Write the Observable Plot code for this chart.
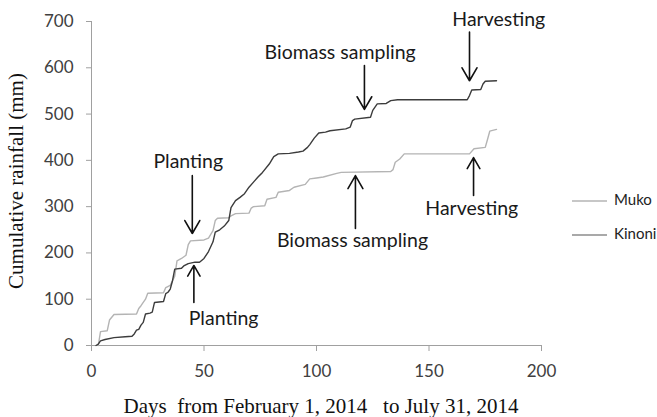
<!DOCTYPE html>
<html>
<head>
<meta charset="utf-8">
<script src="https://cdn.jsdelivr.net/npm/d3@7"></script>
<script src="https://cdn.jsdelivr.net/npm/@observablehq/plot@0.6"></script>
<style>
  html, body { margin: 0; padding: 0; background: #fff; }
  #chart { width: 657px; height: 417px; }
</style>
</head>
<body>
<div id="chart"></div>
<script>
// ---- Data ----
const kinoniDays = [2,3,4,6,10,15,18,19,20,21,22,23,24,26,27,28,32,33,34,35,36,37,40,41,43,46,48,50,52,54,55,57,59,61,62,64,66,68,70,72,74,76,79,81,83,88,92,94,96,97,99,101,104,106,113,115,116,117,124,125,127,131,133,136,167,168,169,173,174,175,180];
const kinoniRain = [0,3,10,13,17,19,20,25,33,35,44,50,68,70,72,93,95,112,115,122,140,165,167,172,177,180,180,188,203,224,245,250,258,270,298,313,320,328,342,353,364,374,392,408,414,415,418,420,428,434,448,459,461,464,468,472,486,489,493,508,522,523,529,531,531,540,552,553,565,571,572];

const mukoDays = [3,4,7,8,10,20,21,22,24,25,32,33,35,37,38,40,42,43,44,50,52,54,55,56,61,62,64,70,71,72,77,78,82,83,88,90,95,97,100,103,109,111,133,134,135,137,139,168,170,175,176,177,180];
const mukoRain = [0,30,32,55,67,68,80,86,100,113,114,125,130,150,183,188,195,218,226,228,232,248,270,275,276,280,285,286,297,300,302,316,320,331,335,342,348,360,362,364,372,374,376,380,396,403,414,414,425,428,445,463,467];

const series = ["Muko", "Kinoni"];
const seriesColors = ["#b4b4b4", "#3c3c3c"];
const legendColors = ["#b4b4b4", "#8c8c8c"];

const xTicks = [0, 50, 100, 150, 200];
const yTicks = [0, 100, 200, 300, 400, 500, 600, 700];

// annotations: label text, text position (days, mm)
const noteLabels = ["Harvesting", "Biomass sampling", "Planting", "Planting", "Biomass sampling", "Harvesting"];
const noteX = [181, 110.5, 43, 58.7, 116, 169];
const noteY = [704, 633, 396, 58, 227, 296];
// arrows: from (x1,y1) to tip (x2,y2) in data units
const arrowX1 = [168, 121.3, 44.8, 45.5, 117.3, 169.8];
const arrowY1 = [677, 605, 367, 93, 253, 324];
const arrowX2 = [168, 121.3, 44.8, 45.5, 117.3, 169.8];
const arrowY2 = [572, 510, 242, 173, 367, 406];

const xTitle = "Days  from February 1, 2014   to July 31, 2014";
const yTitle = "Cumulative rainfall (mm)";

// ---- Build tables ----
const lineData = [
  ...mukoDays.map((d, i) => ({series: "Muko", day: d, rain: mukoRain[i]})),
  ...kinoniDays.map((d, i) => ({series: "Kinoni", day: d, rain: kinoniRain[i]}))
];
const notes = noteLabels.map((t, i) => ({text: t, x: noteX[i], y: noteY[i]}));
const arrows = arrowX1.map((x, i) => ({x1: x, y1: arrowY1[i], x2: arrowX2[i], y2: arrowY2[i]}));

const axisGray = "#a0a0a0";
const labelColor = "#404040";

const chart = Plot.plot({
  width: 657,
  height: 417,
  marginLeft: 91,
  marginRight: 116,
  marginTop: 21,
  marginBottom: 72,
  style: {fontFamily: "Lato, sans-serif", fontSize: "16px", background: "#fff", overflow: "visible"},
  x: {domain: [0, 200], label: null},
  y: {domain: [0, 700], label: null},
  color: {domain: series, range: seriesColors},
  marks: [
    Plot.axisY({ticks: yTicks, tickSize: 5, tickPadding: 13, label: null, stroke: axisGray, fill: labelColor, fontSize: 17}),
    Plot.axisX({ticks: xTicks, tickSize: 6, tickPadding: 13, label: null, stroke: axisGray, fill: labelColor, fontSize: 17}),
    Plot.ruleX([0], {stroke: axisGray}),
    Plot.ruleY([0], {stroke: axisGray}),
    Plot.line(lineData, {x: "day", y: "rain", z: "series", stroke: "series", strokeWidth: 1.4}),
    Plot.arrow(arrows, {x1: "x1", y1: "y1", x2: "x2", y2: "y2", stroke: "#111", strokeWidth: 1.6, headLength: 14, headAngle: 60}),
    Plot.text(notes, {x: "x", y: "y", text: "text", fill: "#1a1a1a", fontSize: 19.5, fontFamily: "Lato, sans-serif"})
  ]
});

document.getElementById("chart").appendChild(chart);

// ---- axis titles and legend ----
const svg = d3.select(chart);
svg.append("text")
  .attr("x", 321).attr("y", 408)
  .attr("text-anchor", "middle").attr("dominant-baseline", "middle")
  .style("white-space", "pre")
  .attr("font-family", "'Liberation Serif', serif").attr("font-size", 21).attr("fill", "#111")
  .text(xTitle);
svg.append("text")
  .attr("transform", "translate(18,181) rotate(-90)")
  .attr("text-anchor", "middle").attr("dominant-baseline", "middle")
  .attr("font-family", "'Liberation Serif', serif").attr("font-size", 21).attr("fill", "#111")
  .text(yTitle);

const legendY = [201, 235];
const lg = svg.append("g");
series.forEach((s, i) => {
  lg.append("line").attr("x1", 572).attr("x2", 607).attr("y1", legendY[i]).attr("y2", legendY[i])
    .attr("stroke", legendColors[i]).attr("stroke-width", 1.5);
  lg.append("text").attr("x", 614).attr("y", legendY[i])
    .attr("text-anchor", "start").attr("dominant-baseline", "middle")
    .attr("font-family", "Lato, sans-serif").attr("font-size", 15).attr("fill", "#222").text(s);
});
</script>
</body>
</html>
